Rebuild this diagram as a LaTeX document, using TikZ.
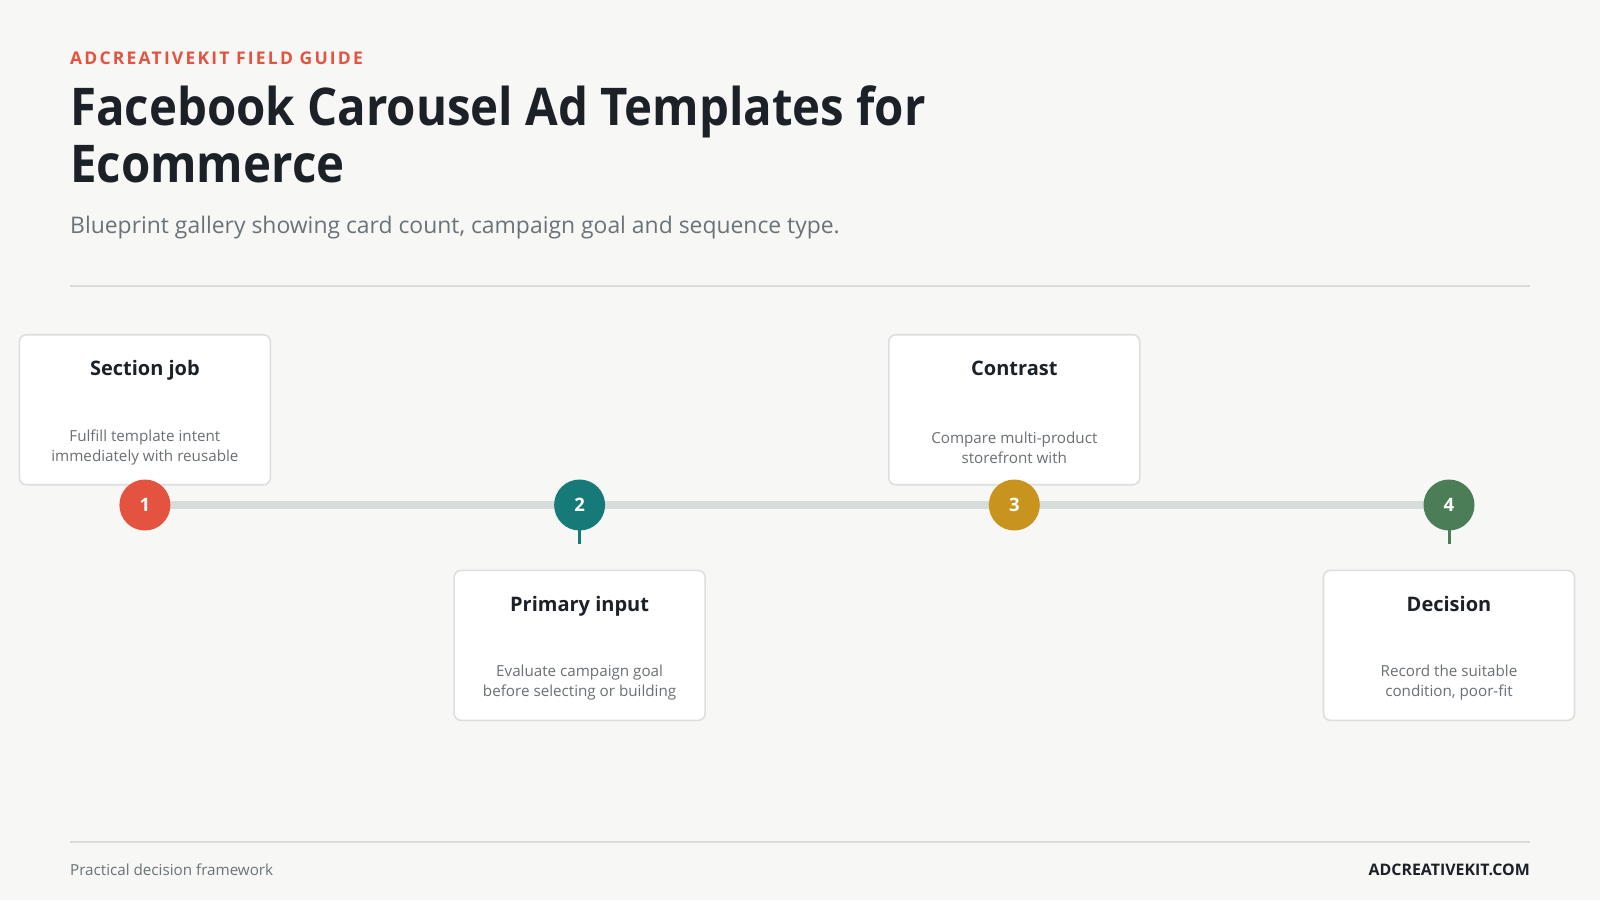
\documentclass[tikz,border=0pt]{standalone}
\usepackage{fontspec}
\setmainfont{Open Sans}
\newfontfamily\kickerfont{Open Sans}[LetterSpace=12.5]
\newfontfamily\titlefont{Open Sans}[FakeStretch=0.911]
\definecolor{bg}{HTML}{F7F7F5}
\definecolor{ink}{HTML}{1C2128}
\definecolor{subgray}{HTML}{6A7378}
\definecolor{bodygray}{HTML}{6B7075}
\definecolor{rulegray}{HTML}{DADDDC}
\definecolor{cardline}{HTML}{DCDFDE}
\definecolor{trackgray}{HTML}{D6DDDA}
\definecolor{cred}{HTML}{E4533F}
\definecolor{cteal}{HTML}{167B78}
\definecolor{cgold}{HTML}{C9941E}
\definecolor{cgreen}{HTML}{4B7D57}
\tikzset{
  x=1pt, y=-1pt,
  card/.style={draw=cardline, line width=1.6pt, fill=white, rounded corners=7pt,
    minimum width=251pt, minimum height=150pt, inner sep=0pt},
  cardtitle/.style={anchor=base, font=\bfseries\fontsize{20}{24}\selectfont, text=ink, inner sep=0pt},
  cardbody/.style={anchor=center, align=center, font=\fontsize{15.2}{20.4}\selectfont, text=bodygray, inner sep=0pt},
  stepdot/.style={circle, minimum size=51pt, inner sep=0pt, font=\bfseries\fontsize{18.5}{20}\selectfont, text=white},
  stem/.style={line width=3pt},
}
\begin{document}
\begin{tikzpicture}
\useasboundingbox[fill=bg] (0,0) rectangle (1600,900);
% header
\node[anchor=base west, inner sep=0pt, text=cred, font=\kickerfont\bfseries\fontsize{17.5}{20}\selectfont] (kicker) at (70,64.3) {ADCREATIVEKIT FIELD GUIDE};
\node[anchor=base west, inner sep=0pt, text=ink, font=\titlefont\bfseries\fontsize{52}{57}\selectfont] (title1) at (70,125.5) {Facebook Carousel Ad Templates for};
\node[anchor=base west, inner sep=0pt, text=ink, font=\titlefont\bfseries\fontsize{52}{57}\selectfont] (title2) at (70,182.7) {Ecommerce};
\node[anchor=base west, inner sep=0pt, text=subgray, font=\fontsize{22.9}{26}\selectfont] (subtitle) at (70,233.7) {Blueprint gallery showing card count, campaign goal and sequence type.};
\coordinate (r1a) at (70,285.7);
\coordinate (r1b) at (1530,285.7);
\draw[rulegray, line width=2pt] (r1a) -- (r1b);
% timeline
\coordinate (t1) at (144.9,505);
\coordinate (t2) at (579.6,505);
\coordinate (t3) at (1014.3,505);
\coordinate (t4) at (1449,505);
\draw[trackgray, line width=8pt] (t1) -- (t4);
% stems below
\coordinate (s2) at (579.6,544);
\coordinate (s4) at (1449,544);
\draw[stem, cteal] (t2) -- (s2);
\draw[stem, cgreen] (t4) -- (s4);
% cards
\node[card] (c1) at (144.9,409.7) {};
\node[card] (c2) at (579.6,645.4) {};
\node[card] (c3) at (1014.3,409.7) {};
\node[card] (c4) at (1449,645.4) {};
\node[cardtitle] (c1t) at (144.9,375.5) {Section job};
\node[cardbody] (c1b) at (144.9,447.5) {Fulfill template intent\\immediately with reusable};
\node[cardtitle] (c2t) at (579.6,611) {Primary input};
\node[cardbody] (c2b) at (579.6,682.5) {Evaluate campaign goal\\before selecting or building};
\node[cardtitle] (c3t) at (1014.3,375.5) {Contrast};
\node[cardbody] (c3b) at (1014.3,447.5) {Compare multi-product\\storefront with};
\node[cardtitle] (c4t) at (1449,611) {Decision};
\node[cardbody] (c4b) at (1449,682.5) {Record the suitable\\condition, poor-fit};
% dots
\node[stepdot, fill=cred] (d1) at (t1) {1};
\node[stepdot, fill=cteal] (d2) at (t2) {2};
\node[stepdot, fill=cgold] (d3) at (t3) {3};
\node[stepdot, fill=cgreen] (d4) at (t4) {4};
% footer
\coordinate (r2a) at (70,841.8);
\coordinate (r2b) at (1530,841.8);
\draw[rulegray, line width=2pt] (r2a) -- (r2b);
\node[anchor=west, inner sep=0pt, text=subgray, font=\fontsize{15.2}{18}\selectfont] (foot1) at (70,869.8) {Practical decision framework};
\node[anchor=east, inner sep=0pt, text=ink, font=\bfseries\fontsize{15.9}{18}\selectfont] (foot2) at (1530,869.8) {ADCREATIVEKIT.COM};
\end{tikzpicture}
\end{document}
